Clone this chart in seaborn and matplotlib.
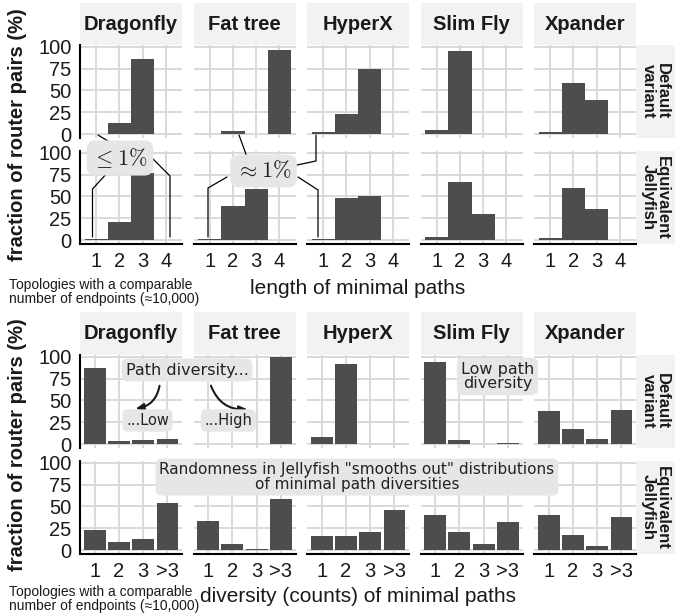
import numpy as np
import pandas as pd
import seaborn as sns
import matplotlib.pyplot as plt
from matplotlib.lines import Line2D
from matplotlib.patches import FancyArrowPatch

# values (% of router pairs)
topologies = ['Dragonfly', 'Fat tree', 'HyperX', 'Slim Fly', 'Xpander']
variants = ['Default\nvariant', 'Equivalent\nJellyfish']
length_bins = ['1', '2', '3', '4']
diversity_bins = ['1', '2', '3', '>3']

# length of minimal paths, one row per topology
length_default = [
    [0.6, 12.3, 86.5, 0.0],
    [0.0, 3.4, 0.0, 96.6],
    [2.0, 23.0, 75.0, 0.0],
    [4.5, 95.5, 0.0, 0.0],
    [2.5, 59.0, 38.5, 0.0],
]
length_jellyfish = [
    [1.2, 21.0, 77.3, 0.5],
    [1.5, 39.5, 59.0, 0.0],
    [1.5, 48.0, 50.0, 0.0],
    [3.5, 67.0, 29.5, 0.0],
    [2.5, 60.0, 36.0, 0.0],
]
# diversity (counts) of minimal paths
diversity_default = [
    [87.5, 3.0, 4.2, 5.5],
    [0.0, 0.0, 0.0, 100.0],
    [8.5, 91.5, 0.0, 0.0],
    [93.5, 5.0, 0.0, 1.2],
    [38.0, 17.0, 5.5, 39.5],
]
diversity_jellyfish = [
    [22.7, 9.8, 13.0, 54.0],
    [33.3, 7.0, 1.0, 58.8],
    [16.5, 16.5, 20.4, 46.3],
    [40.0, 21.0, 7.0, 32.0],
    [40.0, 17.5, 4.5, 38.0],
]


def to_long(rows, bins, variant):
    recs = []
    for topo, vals in zip(topologies, rows):
        for b, v in zip(bins, vals):
            recs.append({'topology': topo, 'variant': variant, 'bin': b, 'pct': v})
    return pd.DataFrame(recs)


df_len = pd.concat([to_long(length_default, length_bins, variants[0]),
                    to_long(length_jellyfish, length_bins, variants[1])])
df_div = pd.concat([to_long(diversity_default, diversity_bins, variants[0]),
                    to_long(diversity_jellyfish, diversity_bins, variants[1])])

#%%
sns.set_style('white')
plt.rcParams['font.family'] = ['Liberation Sans', 'DejaVu Sans']
plt.rcParams['mathtext.fontset'] = 'cm'

W, H = 675, 614
fig = plt.figure(figsize=(W / 100, H / 100), dpi=100)

BAR = '#4d4d4d'
GRID = '#d9d9d9'
STRIP = '#f2f2f2'
TXT = '#1a1a1a'
col_x = [80, 193.5, 307, 420.5, 534]
panel_w = 102


def fx(x):
    return x / W


def fy(y):
    return 1 - y / H


def px_axes(x0, y0, x1, y1):
    return fig.add_axes([fx(x0), fy(y1), (x1 - x0) / W, (y1 - y0) / H])


def strip_box(x0, y0, x1, y1):
    ax = px_axes(x0, y0, x1, y1)
    ax.set_facecolor(STRIP)
    ax.set_xticks([])
    ax.set_yticks([])
    for s in ax.spines.values():
        s.set_visible(False)
    return ax


blocks = [
    dict(df=df_len, bins=length_bins, strip=(3, 45), rows=[(45, 138), (151, 244)],
         width=1.0, xlim=(-0.7, 3.7), xlabel='length of minimal paths',
         xlabel_y=288, note_y=292, ylabel_y=135),
    dict(df=df_div, bins=diversity_bins, strip=(312, 355), rows=[(355, 448), (461, 554)],
         width=0.9, xlim=(-0.6, 3.6), xlabel='diversity (counts) of minimal paths',
         xlabel_y=597, note_y=599, ylabel_y=445),
]

for blk in blocks:
    s0, s1 = blk['strip']
    for j, topo in enumerate(topologies):
        sa = strip_box(col_x[j], s0, col_x[j] + panel_w, s1)
        sa.text(0.5, 0.5, topo, transform=sa.transAxes, ha='center', va='center',
                fontsize=14.5, fontweight='bold', color=TXT)
    for i, var in enumerate(variants):
        y0, y1 = blk['rows'][i]
        ra = strip_box(636, y0, 675, y1)
        ra.text(0.5, 0.5, var, transform=ra.transAxes, ha='center', va='center',
                rotation=270, fontsize=12, fontweight='bold', color=TXT, linespacing=0.95)
        for j, topo in enumerate(topologies):
            ax = px_axes(col_x[j], y0, col_x[j] + panel_w, y1)
            sub = blk['df'][(blk['df']['topology'] == topo) & (blk['df']['variant'] == var)]
            sns.barplot(data=sub, x='bin', y='pct', order=blk['bins'], color=BAR,
                        saturation=1, width=blk['width'], linewidth=0, errorbar=None, ax=ax)
            ax.set_xlim(*blk['xlim'])
            ax.set_ylim(-4.5, 102)
            ax.set_yticks([0, 25, 50, 75, 100])
            ax.set_xlabel('')
            ax.set_ylabel('')
            ax.set_axisbelow(True)
            ax.grid(True, color=GRID, lw=1.4)
            for s in ax.spines.values():
                s.set_visible(False)
            if j == 0:
                ax.spines['left'].set_visible(True)
                ax.spines['left'].set_linewidth(1.5)
                ax.spines['left'].set_color('black')
                ax.tick_params(axis='y', length=4, width=1.2, color='black', pad=2,
                               labelsize=14.5, labelcolor=TXT)
            else:
                ax.tick_params(axis='y', length=0, labelleft=False)
            if i == 1:
                ax.spines['bottom'].set_visible(True)
                ax.spines['bottom'].set_linewidth(1.5)
                ax.spines['bottom'].set_color('black')
                ax.tick_params(axis='x', length=4, width=1.2, color='black', pad=2,
                               labelsize=14.5, labelcolor=TXT)
            else:
                ax.tick_params(axis='x', length=0, labelbottom=False)

    fig.text(fx(358), fy(blk['xlabel_y']), blk['xlabel'], ha='center', va='center',
             fontsize=15, color=TXT)
    fig.text(fx(18), fy(blk['ylabel_y']),
             'fraction of router pairs (%)', rotation=90, ha='center', va='center',
             fontsize=14.5, fontweight='bold', color=TXT)
    fig.text(fx(9), fy(blk['note_y']), 'Topologies with a comparable\nnumber of endpoints (≈10,000)',
             ha='left', va='center', fontsize=10, color=TXT, linespacing=1.0)

#%%
# annotations
box = dict(boxstyle='round,pad=0.25,rounding_size=0.4', fc='#e6e6e6', ec='none')
ann = dict(ha='center', va='center', color='#222222', family='DejaVu Sans')


def seg(*pts):
    xs = [fx(p[0]) for p in pts]
    ys = [fy(p[1]) for p in pts]
    fig.add_artist(Line2D(xs, ys, transform=fig.transFigure, color='black', lw=0.9))


seg((98, 135), (112, 143.5))
seg((108, 172), (92.5, 189), (92.5, 237))
seg((152, 158), (170, 176), (170, 237))
seg((239, 135), (247, 157))
seg((297, 165), (316, 161), (316, 135))
seg((227, 177), (208, 188), (208, 237))
seg((298, 177), (318, 190), (318, 237))

fig.text(fx(120), fy(158), r'$\leq 1\%$', fontsize=16, bbox=box,
         ha='center', va='center', color='#222222')
fig.text(fx(263.5), fy(171), r'$\approx 1\%$', fontsize=16, bbox=box,
         ha='center', va='center', color='#222222')

fig.text(fx(187), fy(370), 'Path diversity...', fontsize=11.5, bbox=box, **ann)
fig.text(fx(147.5), fy(420.5), '...Low', fontsize=10.5, bbox=box, **ann)
fig.text(fx(228.5), fy(420.5), '...High', fontsize=10.5, bbox=box, **ann)
fig.text(fx(497.5), fy(376.5), 'Low path\ndiversity', fontsize=11.5, bbox=box,
         linespacing=0.95, **ann)
fig.text(fx(357), fy(477), 'Randomness in Jellyfish "smooths out" distributions\nof minimal path diversities',
         fontsize=11, bbox=box, linespacing=0.95, **ann)

for start, end, rad in [((160, 383), (133, 409), -0.4), ((210, 383), (250, 409), 0.4)]:
    fig.add_artist(FancyArrowPatch((fx(start[0]), fy(start[1])), (fx(end[0]), fy(end[1])),
                                   transform=fig.transFigure, arrowstyle='-|>',
                                   connectionstyle=f'arc3,rad={rad}', mutation_scale=12,
                                   color='#1a1a1a', lw=1.5))

plt.savefig('out.png', dpi=100)
